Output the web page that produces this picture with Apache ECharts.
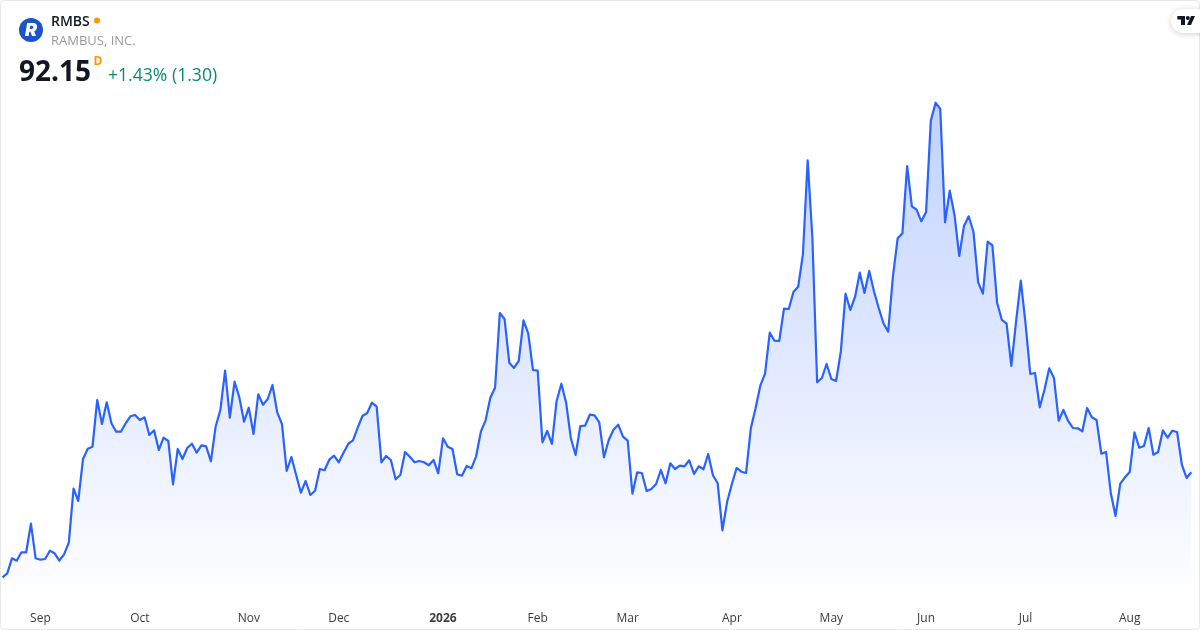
<!DOCTYPE html>
<html>
<head>
<meta charset="utf-8">
<style>html,body{margin:0;padding:0;background:#fff}#c{width:1200px;height:630px}</style>
<script src="https://cdn.jsdelivr.net/npm/echarts@6/dist/echarts.min.js"></script>
</head>
<body>
<div id="c"></div>
<script>
var tickIndex = [8, 29, 52, 71, 93, 113, 132, 154, 175, 195, 216, 238];
var tickLabels = ['Sep', 'Oct', 'Nov', 'Dec', '2026', 'Feb', 'Mar', 'Apr', 'May', 'Jun', 'Jul', 'Aug'];
var prices = [
65.90,66.90,70.65,70.05,72.15,72.15,79.30,70.65,70.30,70.48,
72.55,71.90,70.05,71.65,74.55,88.05,84.98,95.48,98.05,98.55,
110.23,104.23,109.65,104.40,102.30,102.30,104.40,106.15,106.48,105.23,
105.90,101.48,102.65,97.73,100.80,99.98,89.15,97.98,95.48,98.23,
99.30,97.05,98.90,98.65,94.90,103.55,107.73,117.55,105.80,114.80,
110.90,104.80,108.30,101.73,111.65,109.05,110.48,113.98,107.15,104.23,
92.48,95.98,91.48,87.05,89.98,86.48,87.55,92.98,92.65,95.30,
96.30,94.65,97.05,99.23,100.15,103.30,106.23,106.98,109.55,108.55,
94.65,96.23,95.23,90.40,91.48,97.23,96.05,94.65,94.98,94.65,
93.90,95.23,91.90,100.65,98.55,97.98,91.65,91.30,93.73,93.15,
96.15,102.30,105.15,110.80,113.30,131.98,130.48,119.55,118.23,119.98,
130.15,126.90,117.73,117.55,99.65,102.48,99.23,109.98,114.30,109.55,
100.65,96.48,103.73,103.80,106.55,106.40,104.65,95.90,100.23,102.80,
104.05,101.05,100.05,86.80,92.15,91.98,87.48,87.98,89.23,92.73,
89.40,94.40,92.98,93.80,93.65,95.15,91.73,93.65,92.90,96.73,
91.40,89.40,77.65,84.80,89.23,93.23,92.30,91.98,103.15,108.15,
113.80,116.80,127.05,125.05,124.98,133.05,132.98,137.23,138.55,146.65,
170.15,150.65,114.65,115.73,119.23,115.48,114.98,122.30,136.80,132.73,
135.98,142.05,136.98,142.48,137.40,133.23,129.40,127.30,141.05,150.65,
151.90,168.73,158.65,157.80,154.90,157.23,180.05,184.55,182.98,154.65,
162.55,156.48,146.23,153.73,156.15,152.30,139.65,136.80,149.80,148.90,
134.55,130.23,129.30,118.73,129.80,140.05,129.40,116.73,116.98,108.40,
112.80,118.15,115.73,105.05,107.73,104.98,103.23,103.15,102.40,108.23,
105.90,105.23,96.80,97.23,86.98,81.23,89.30,90.90,92.23,102.15,
98.30,98.73,103.23,96.55,97.23,102.65,100.80,102.55,102.23,94.05,
90.73,92.15
];
var symbol = 'RMBS';
var company = 'RAMBUS, INC.';
var lastPrice = '92.15';
var interval = 'D';
var change = '+1.43% (1.30)';

var categories = prices.map(function (_, i) {
  var k = tickIndex.indexOf(i);
  return k >= 0 ? tickLabels[k] : '';
});

var FONT = '"Open Sans","Noto Sans",sans-serif';
var chart = echarts.init(document.getElementById('c'), null, { renderer: 'canvas' });
chart.setOption({
  animation: false,
  backgroundColor: '#ffffff',
  grid: { left: 2.5, top: 0, width: 1188.8, height: 600, containLabel: false },
  xAxis: {
    type: 'category',
    boundaryGap: false,
    data: categories,
    axisLine: { show: false },
    axisTick: { show: false },
    splitLine: { show: false },
    axisLabel: {
      interval: function (i, v) { return v !== ''; },
      hideOverlap: false,
      margin: 13,
      color: '#3c3c3c',
      fontFamily: FONT,
      fontSize: 12,
      formatter: function (v) { return v === '2026' ? '{b|2026}' : v; },
      rich: { b: { fontWeight: 700, fontSize: 12, color: '#3c3c3c', fontFamily: FONT } }
    }
  },
  yAxis: { type: 'value', min: 60.225, max: 210.225, show: false },
  series: [{
    type: 'line',
    data: prices,
    showSymbol: false,
    symbol: 'none',
    smooth: false,
    clip: false,
    lineStyle: { color: '#2962FF', width: 2.2, join: 'round' },
    areaStyle: {
      origin: 'start',
      opacity: 1,
      color: {
        type: 'linear', x: 0, y: 0, x2: 0, y2: 600, global: true,
        colorStops: [
          { offset: 0, color: 'rgba(41,98,255,0.35)' },
          { offset: 1, color: 'rgba(41,98,255,0)' }
        ]
      }
    }
  }],
  graphic: [
    { type: 'rect', silent: true, z: 50, shape: { x: 0.5, y: 0.5, width: 1199, height: 629, r: 4 },
      style: { fill: 'none', stroke: '#e8e8e8', lineWidth: 1 } },
    { type: 'circle', z: 60, shape: { cx: 31, cy: 30, r: 12 }, style: { fill: '#1a56c9' } },
    { type: 'text', z: 61, style: { x: 31, y: 30.5, text: 'R', align: 'center', verticalAlign: 'middle',
      fill: '#fff', font: 'italic 900 18px Inter,' + FONT } },
    { type: 'text', z: 60, style: { x: 51, y: 22, text: symbol, verticalAlign: 'middle',
      fill: '#131722', font: '600 14px ' + FONT } },
    { type: 'circle', z: 60, shape: { cx: 97, cy: 20.5, r: 3 }, style: { fill: '#FF9800' } },
    { type: 'text', z: 60, style: { x: 51, y: 41.5, text: company, verticalAlign: 'middle',
      fill: '#9a9a9a', font: '400 13px ' + FONT } },
    { type: 'text', z: 60, style: { x: 19, y: 73.5, text: lastPrice, verticalAlign: 'middle',
      fill: '#131722', font: '700 28px ' + FONT } },
    { type: 'text', z: 60, style: { x: 93.5, y: 61.5, text: interval, verticalAlign: 'middle',
      fill: '#FF9800', font: '700 12px ' + FONT } },
    { type: 'text', z: 60, style: { x: 108, y: 75.5, text: change, verticalAlign: 'middle',
      fill: '#0b8a72', font: '400 17.6px ' + FONT } },
    { type: 'rect', z: 60, shape: { x: 1171, y: 9, width: 40, height: 24, r: [12, 0, 0, 12] },
      style: { fill: '#fff', shadowBlur: 6, shadowColor: 'rgba(0,0,0,0.18)', shadowOffsetY: 1 } },
    { type: 'polygon', z: 61, shape: { points: [[1177.3,16],[1185,16],[1185,25],[1181,25],[1181,19.5],[1177.3,19.5]] },
      style: { fill: '#131722' } },
    { type: 'polygon', z: 61, shape: { points: [[1191,16],[1195,16],[1191,25],[1187,25]] },
      style: { fill: '#131722' } },
    { type: 'circle', z: 61, shape: { cx: 1187.8, cy: 18, r: 2 }, style: { fill: '#131722' } }
  ]
});
</script>
</body>
</html>
